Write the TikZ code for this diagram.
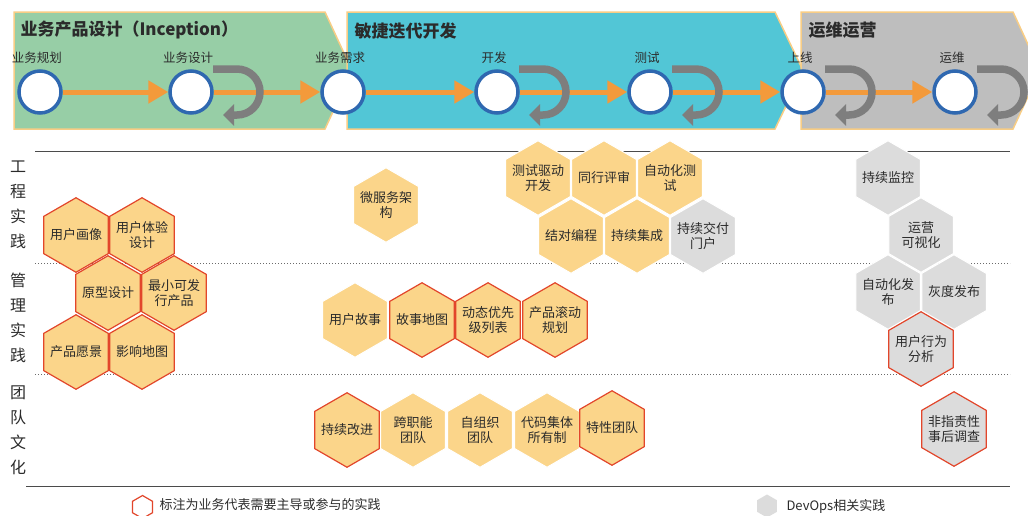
\documentclass[tikz,border=0pt]{standalone}
\usepackage{fontspec}
\setmainfont{Noto Sans CJK SC}
\usetikzlibrary{shapes.geometric,arrows.meta,calc}
\definecolor{phgreen}{HTML}{97CEA6}
\definecolor{phcyan}{HTML}{52C6D6}
\definecolor{phgrey}{HTML}{BEBEBE}
\definecolor{phborder}{HTML}{F8CD85}
\definecolor{flowor}{HTML}{F39A3B}
\definecolor{ringblue}{HTML}{2F68B0}
\definecolor{loopgrey}{HTML}{7E7E7E}
\definecolor{hexyellow}{HTML}{FBD58A}
\definecolor{hexgrey}{HTML}{DCDCDC}
\definecolor{hexred}{HTML}{E2462B}
\definecolor{txt}{HTML}{2B2B2B}
\tikzset{
  phase/.style={draw=phborder, line width=1.5pt, line join=miter},
  phasetitle/.style={anchor=west, text=txt, font=\fontsize{17}{20}\selectfont\bfseries},
  stagec/.style={circle, draw=ringblue, line width=3.5pt, fill=white, minimum size=42pt, inner sep=0pt},
  stagelab/.style={text=txt, font=\fontsize{12.5}{14}\selectfont},
  flow/.style={draw=flowor, line width=5pt, -{Triangle[length=20pt,width=22pt]}},
  loopar/.style={draw=loopgrey, line width=7.5pt, -{Triangle[length=11pt,width=21pt]}},
  hexbase/.style={shape=regular polygon, regular polygon sides=6, shape border rotate=30,
     minimum size=74.5pt, inner sep=0pt},
  hextext/.style={align=center, text=txt, inner sep=0pt, font=\fontsize{13}{15}\selectfont},
  hexY/.style={hexbase, fill=hexyellow, draw=white, line width=1pt},
  hexYR/.style={hexbase, fill=hexyellow, draw=hexred, line width=1.2pt},
  hexG/.style={hexbase, fill=hexgrey, draw=white, line width=1pt},
  hexGR/.style={hexbase, fill=hexgrey, draw=hexred, line width=1.2pt},
  vlab/.style={align=center, text=txt, font=\fontsize{16}{25}\selectfont},
  sepsolid/.style={draw=txt!85, line width=1pt},
  sepdot/.style={draw=txt!70, line width=1pt, dotted},
  legtext/.style={anchor=west, text=txt, font=\fontsize{13}{15}\selectfont},
}
\newcommand\hexnode[4]{\node[#1] (#2) at (#3) {}; \node[hextext] (#2t) at (#2.center) {#4};}
\begin{document}
\begin{tikzpicture}[x=1pt,y=-1pt]
\clip (0,0) rectangle (1028,515);
\fill[white] (0,0) rectangle (1028,515);
% phases
\draw[phase, fill=phgreen] (14,12) -- (325,12) -- (352,70.5) -- (325,129) -- (14,129) -- cycle;
\draw[phase, fill=phcyan] (347,12) -- (775,12) -- (803,70.5) -- (775,129) -- (347,129) -- cycle;
\draw[phase, fill=phgrey] (801,12) -- (1013,12) -- (1040,70.5) -- (1013,129) -- (801,129) -- cycle;
\node[phasetitle] (t1) at (17,30) {业务产品设计（Inception）};
\node[phasetitle] (t2) at (351,31) {敏捷迭代开发};
\node[phasetitle] (t3) at (805,30) {运维运营};
% stages
\foreach \n/\x/\l in {s1/40/业务规划, s2/191/业务设计, s3/343/业务需求, s4/497/开发, s5/650/测试, s6/803/上线, s7/955/运维}{
  \node[stagec] (\n) at (\x,92) {};
  \node[stagelab] (\n l) at (\x-3,58) {\l};
}
\draw[flow] (s1) -- (s2);
\draw[flow] (s2) -- (s3);
\draw[flow] (s3) -- (s4);
\draw[flow] (s4) -- (s5);
\draw[flow] (s5) -- (s6);
\draw[flow] (s6) -- (s7);
\foreach \n in {s2,s4,s5,s6,s7}{
  \draw[loopar] ($(\n)+(22,-23)$) -- ++(24,0) arc[start angle=90,end angle=-90,radius=23pt] -- ++(-14,0);
}
% separators
\draw[sepsolid] (35,151) -- (1010,151);
\draw[sepdot] (35,263) -- (1010,263);
\draw[sepdot] (35,374) -- (1010,374);
\draw[sepsolid] (26,486) -- (1010,486);
% row labels
\node[vlab] (r1) at (18,205) {工\\程\\实\\践};
\node[vlab] (r2) at (18,318) {管\\理\\实\\践};
\node[vlab] (r3) at (18,430) {团\\队\\文\\化};
% left cluster
\hexnode{hexYR}{h1}{76,235}{用户画像}
\hexnode{hexYR}{h2}{142,235}{用户体验\\设计}
\hexnode{hexYR}{h3}{108,293}{原型设计}
\hexnode{hexYR}{h4}{174,293}{最小可发\\行产品}
\hexnode{hexYR}{h5}{76,352}{产品愿景}
\hexnode{hexYR}{h6}{142,352}{影响地图}
% engineering
\hexnode{hexY}{e0}{386,205}{微服务架\\构}
\hexnode{hexY}{e1}{538,178}{测试驱动\\开发}
\hexnode{hexY}{e2}{604,178}{同行评审}
\hexnode{hexY}{e3}{670,178}{自动化测\\试}
\hexnode{hexY}{e4}{571,236}{结对编程}
\hexnode{hexY}{e5}{637,236}{持续集成}
\hexnode{hexG}{e6}{703,236}{持续交付\\门户}
% management
\hexnode{hexY}{m1}{355,320}{用户故事}
\hexnode{hexYR}{m2}{422,320}{故事地图}
\hexnode{hexYR}{m3}{488,320}{动态优先\\级列表}
\hexnode{hexYR}{m4}{555,320}{产品滚动\\规划}
% team
\hexnode{hexYR}{c1}{347,430}{持续改进}
\hexnode{hexY}{c2}{413,430}{跨职能\\团队}
\hexnode{hexY}{c3}{480,430}{自组织\\团队}
\hexnode{hexY}{c4}{547,430}{代码集体\\所有制}
\hexnode{hexYR}{c5}{612,428}{特性团队}
% devops
\hexnode{hexG}{d1}{888,178}{持续监控}
\hexnode{hexG}{d2}{921,235}{运营\\可视化}
\hexnode{hexG}{d3}{888,292}{自动化发\\布}
\hexnode{hexG}{d4}{954,292}{灰度发布}
\hexnode{hexGR}{d5}{921,349}{用户行为\\分析}
\hexnode{hexGR}{d6}{954,429}{非指责性\\事后调查}
% legend
\node[hexbase, minimum size=23pt, fill=white, draw=hexred, line width=1.2pt] (lg1) at (142.5,507) {};
\node[legtext] (lt1) at (156,505) {标注为业务代表需要主导或参与的实践};
\node[hexbase, minimum size=23pt, fill=hexgrey, draw=none] (lg2) at (767,506) {};
\node[legtext] (lt2) at (783,506) {DevOps相关实践};
\end{tikzpicture}
\end{document}
